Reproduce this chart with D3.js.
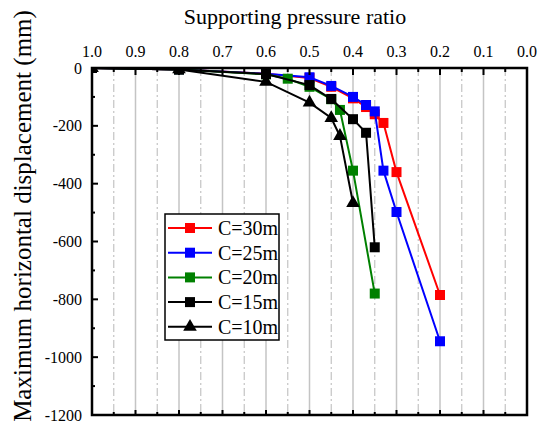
<!DOCTYPE html>
<html>
<head>
<meta charset="utf-8">
<script src="https://cdn.jsdelivr.net/npm/d3@7"></script>
<style>
  body { margin: 0; background: #fff; }
</style>
</head>
<body>
<div id="chart"></div>
<script>
// supporting pressure ratio (x) and max horizontal displacement in mm (y)
const ratio30 = [1.0, 0.8, 0.6, 0.5, 0.45, 0.4, 0.37, 0.35, 0.33, 0.3, 0.2];
const disp30  = [0, -5, -20, -35, -65, -105, -135, -160, -190, -360, -785];
const ratio25 = [1.0, 0.8, 0.6, 0.5, 0.45, 0.4, 0.37, 0.35, 0.33, 0.3, 0.2];
const disp25  = [0, -5, -20, -32, -62, -100, -128, -150, -355, -498, -945];
const ratio20 = [1.0, 0.8, 0.6, 0.55, 0.5, 0.45, 0.43, 0.4, 0.35];
const disp20  = [0, -5, -22, -37, -65, -108, -145, -355, -780];
const ratio15 = [1.0, 0.8, 0.6, 0.5, 0.45, 0.4, 0.37, 0.35];
const disp15  = [0, -5, -21, -59, -107, -177, -224, -620];
const ratio10 = [1.0, 0.8, 0.6, 0.5, 0.45, 0.43, 0.4];
const disp10  = [0, -5, -48, -120, -173, -235, -467];

const seriesNames = ['C=30m', 'C=25m', 'C=20m', 'C=15m', 'C=10m'];
const seriesColors = ['#ff0000', '#0000ff', '#008000', '#000000', '#000000'];
const seriesShapes = ['square', 'square', 'square', 'square', 'triangle'];

const xTicks = [1.0, 0.9, 0.8, 0.7, 0.6, 0.5, 0.4, 0.3, 0.2, 0.1, 0.0];
const yTicks = [0, -200, -400, -600, -800, -1000, -1200];

const xTitle = 'Supporting pressure ratio';
const yTitle = 'Maximum horizontal displacement (mm)';

const _width = 548, _height = 434;
const _margins = { top: 68, left: 92, right: 21, bottom: 19 };
const FONT = 'Liberation Serif';

const _svg = d3.select('#chart').append('svg')
    .attr('width', _width)
    .attr('height', _height);

const _x = d3.scaleLinear().domain([1.0, 0.0])
    .range([_margins.left, _width - _margins.right]);
const _y = d3.scaleLinear().domain([0, -1200])
    .range([_margins.top, _height - _margins.bottom]);

const xMinor = d3.range(0.05, 1.0, 0.1);
const yMinor = d3.range(-100, -1200, -200);

// grid: solid at major, dash-dot at minor
const gridG = _svg.append('g').attr('class', 'grid');
gridG.selectAll('line.major')
    .data(xTicks.slice(1, -1))
    .enter().append('line')
    .attr('class', 'major')
    .attr('x1', d => _x(d)).attr('x2', d => _x(d))
    .attr('y1', _y(0)).attr('y2', _y(-1200))
    .attr('stroke', '#c4c4c4').attr('stroke-width', 1.5);
gridG.selectAll('line.minor')
    .data(xMinor)
    .enter().append('line')
    .attr('class', 'minor')
    .attr('x1', d => _x(d)).attr('x2', d => _x(d))
    .attr('y1', _y(0)).attr('y2', _y(-1200))
    .attr('stroke', '#c4c4c4').attr('stroke-width', 1.2)
    .attr('stroke-dasharray', '8,3,2,3');

// clip for data
_svg.append('clipPath').attr('id', 'plotclip')
    .append('rect')
    .attr('x', _x(1.0)).attr('y', _y(0))
    .attr('width', _x(0) - _x(1.0))
    .attr('height', _y(-1200) - _y(0));

const _data = [
    d3.zip(ratio30, disp30),
    d3.zip(ratio25, disp25),
    d3.zip(ratio20, disp20),
    d3.zip(ratio15, disp15),
    d3.zip(ratio10, disp10)
];

const _line = d3.line()
    .x(d => _x(d[0]))
    .y(d => _y(d[1]));

const squareSym = d3.symbol().type(d3.symbolSquare).size(100);
const triSym = d3.symbol().type(d3.symbolTriangle).size(80);

const bodyG = _svg.append('g').attr('class', 'body')
    .attr('clip-path', 'url(#plotclip)');

_data.forEach(function (list, i) {
    const g = bodyG.append('g');
    g.append('path')
        .attr('d', _line(list))
        .attr('fill', 'none')
        .attr('stroke', seriesColors[i])
        .attr('stroke-width', 2);
    g.selectAll('path.dot')
        .data(list)
        .enter().append('path')
        .attr('class', 'dot')
        .attr('d', seriesShapes[i] === 'square' ? squareSym() : triSym())
        .attr('transform', d => 'translate(' + _x(d[0]) + ',' + _y(d[1]) + ')')
        .attr('fill', seriesColors[i]);
});

// axes
const axisG = _svg.append('g').attr('class', 'axes');

function tick (x1, y1, x2, y2) {
    axisG.append('line')
        .attr('x1', x1).attr('y1', y1)
        .attr('x2', x2).attr('y2', y2)
        .attr('stroke', '#000').attr('stroke-width', 2);
}

// top ticks (inward, down), bottom ticks (inward, up)
xTicks.forEach(v => tick(_x(v), _y(0), _x(v), _y(0) + 7));
xMinor.forEach(v => tick(_x(v), _y(0), _x(v), _y(0) + 4));
xTicks.forEach(v => tick(_x(v), _y(-1200), _x(v), _y(-1200) - 5));
xMinor.forEach(v => tick(_x(v), _y(-1200), _x(v), _y(-1200) - 3));
// left ticks (inward, right)
yTicks.forEach(v => tick(_x(1.0), _y(v), _x(1.0) + 6, _y(v)));
yMinor.forEach(v => tick(_x(1.0), _y(v), _x(1.0) + 3, _y(v)));

// frame
axisG.append('rect')
    .attr('x', _x(1.0)).attr('y', _y(0))
    .attr('width', _x(0) - _x(1.0))
    .attr('height', _y(-1200) - _y(0))
    .attr('fill', 'none')
    .attr('stroke', '#000').attr('stroke-width', 2.5);

// tick labels
axisG.selectAll('text.xt')
    .data(xTicks)
    .enter().append('text')
    .attr('class', 'xt')
    .attr('x', d => _x(d))
    .attr('y', _y(0) - 11)
    .attr('text-anchor', 'middle')
    .attr('font-family', FONT)
    .attr('font-size', 16)
    .text(d => d3.format('.1f')(d));

axisG.selectAll('text.yt')
    .data(yTicks)
    .enter().append('text')
    .attr('class', 'yt')
    .attr('x', _x(1.0) - 10)
    .attr('y', d => _y(d))
    .attr('dy', '0.35em')
    .attr('text-anchor', 'end')
    .attr('font-family', FONT)
    .attr('font-size', 16)
    .text(d => d);

// titles
_svg.append('text')
    .attr('x', 295)
    .attr('y', 24)
    .attr('text-anchor', 'middle')
    .attr('font-family', FONT)
    .attr('font-size', 22)
    .text(xTitle);

_svg.append('text')
    .attr('transform', 'translate(31,' + 216 + ') rotate(-90)')
    .attr('text-anchor', 'middle')
    .attr('font-family', FONT)
    .attr('font-size', 25)
    .text(yTitle);

// legend
const legend = _svg.append('g').attr('class', 'legend')
    .attr('transform', 'translate(165,214)');
legend.append('rect')
    .attr('width', 114).attr('height', 126)
    .attr('fill', '#fff')
    .attr('stroke', '#000').attr('stroke-width', 1.5);
seriesNames.forEach(function (name, i) {
    const row = legend.append('g')
        .attr('transform', 'translate(0,' + (14 + i * 24.7) + ')');
    row.append('line')
        .attr('x1', 3).attr('x2', 47)
        .attr('stroke', seriesColors[i]).attr('stroke-width', 2);
    row.append('path')
        .attr('d', seriesShapes[i] === 'square' ? squareSym() : triSym())
        .attr('transform', 'translate(25,0)')
        .attr('fill', seriesColors[i]);
    row.append('text')
        .attr('x', 53).attr('dy', '0.35em')
        .attr('font-family', FONT)
        .attr('font-size', 20)
        .text(name);
});
</script>
</body>
</html>
